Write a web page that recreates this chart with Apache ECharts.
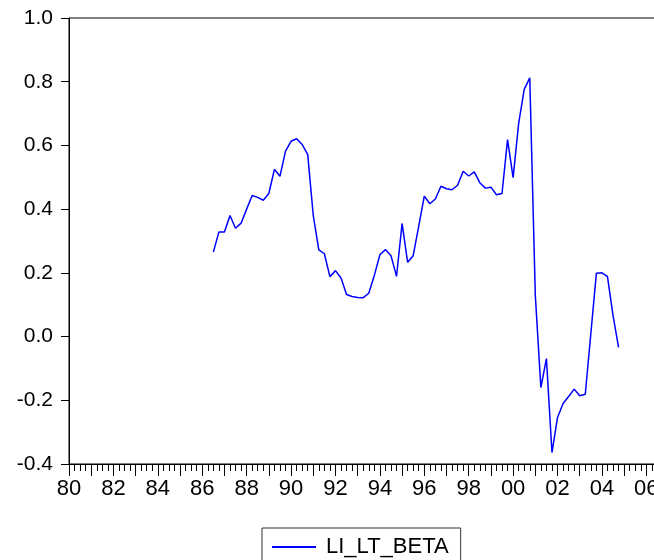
<!DOCTYPE html>
<html>
<head>
<meta charset="utf-8">
<script src="https://cdn.jsdelivr.net/npm/echarts@6/dist/echarts.min.js"></script>
<style>
  html, body { margin: 0; padding: 0; background: #fff; overflow: hidden; }
  /* the frame runs on past the right edge of the window */
  #chart { width: 680px; height: 560px; }
</style>
</head>
<body>
<div id="chart"></div>
<script>
// Quarterly series LI_LT_BETA, first observation 1986Q3
const seriesName = 'LI_LT_BETA';
const firstYear = 1986;
const firstQuarter = 3;
const beta = [
  0.265, 0.328, 0.328, 0.380, 0.340, 0.356, 0.400, 0.443, 0.437, 0.428,
  0.449, 0.525, 0.503, 0.582, 0.613, 0.621, 0.603, 0.571, 0.380, 0.272,
  0.260, 0.188, 0.207, 0.184, 0.132, 0.126, 0.123, 0.122, 0.136, 0.192,
  0.257, 0.273, 0.254, 0.189, 0.355, 0.233, 0.254, 0.347, 0.441, 0.417,
  0.432, 0.472, 0.464, 0.461, 0.475, 0.519, 0.504, 0.517, 0.483, 0.466,
  0.469, 0.445, 0.449, 0.618, 0.499, 0.669, 0.776, 0.812, 0.129, -0.160,
  -0.069, -0.364, -0.254, -0.210, -0.188, -0.165, -0.186, -0.181, 0.009, 0.199,
  0.200, 0.188, 0.066, -0.034
];

// Axis ranges
const xMin = 1980, xMax = 2006.75, xStep = 1;
const yMin = -0.4, yMax = 1.0, yStep = 0.2;

// Each quarter sits at year + (quarter - 1) / 4 on the time axis
const points = beta.map((v, i) => {
  const q = firstQuarter - 1 + i;
  const t = firstYear + Math.floor(q / 4) + (q % 4) / 4;
  return [t, v];
});

const font = '"Liberation Sans", Arial, sans-serif';
const chart = echarts.init(document.getElementById('chart'), null, { renderer: 'canvas' });

chart.setOption({
  animation: false,
  backgroundColor: '#ffffff',
  grid: {
    left: 69, top: 18, width: 594, height: 446,
    show: true, borderColor: '#000', borderWidth: 1, backgroundColor: 'transparent'
  },
  xAxis: {
    type: 'value', min: xMin, max: xMax, interval: xStep,
    axisLine: { show: true, onZero: false, lineStyle: { color: '#000', width: 1 } },
    axisTick: { show: true, length: 12, lineStyle: { color: '#000', width: 1 } },
    minorTick: { show: true, splitNumber: 4, length: 7, lineStyle: { color: '#000', width: 1 } },
    splitLine: { show: false },
    axisLabel: {
      margin: 14, color: '#000', fontFamily: font, fontSize: 22,
      formatter: v => {
        const y = Math.round(v);
        if (Math.abs(v - y) > 1e-6 || y % 2 !== 0) return '';
        return String(y % 100).padStart(2, '0');
      }
    }
  },
  yAxis: {
    type: 'value', min: yMin, max: yMax, interval: yStep,
    axisLine: { show: true, onZero: false, lineStyle: { color: '#000', width: 1 } },
    axisTick: { show: true, length: 8, lineStyle: { color: '#000', width: 1 } },
    splitLine: { show: false },
    axisLabel: {
      margin: 16, color: '#000', fontFamily: font, fontSize: 21,
      formatter: v => (Math.abs(v) < 1e-9 ? 0 : v).toFixed(1)
    }
  },
  legend: {
    left: 262, top: 528,
    data: [seriesName],
    icon: 'rect', itemWidth: 44, itemHeight: 2,
    borderColor: '#333', borderWidth: 1, borderRadius: 0,
    padding: [8, 12, 14, 10],
    textStyle: { color: '#000', fontFamily: font, fontSize: 22, padding: [0, 0, 0, 5] }
  },
  series: [{
    name: seriesName,
    type: 'line',
    data: points,
    showSymbol: false,
    symbol: 'none',
    lineStyle: { color: '#0000ff', width: 1.5 },
    itemStyle: { color: '#0000ff' }
  }]
});
</script>
</body>
</html>
